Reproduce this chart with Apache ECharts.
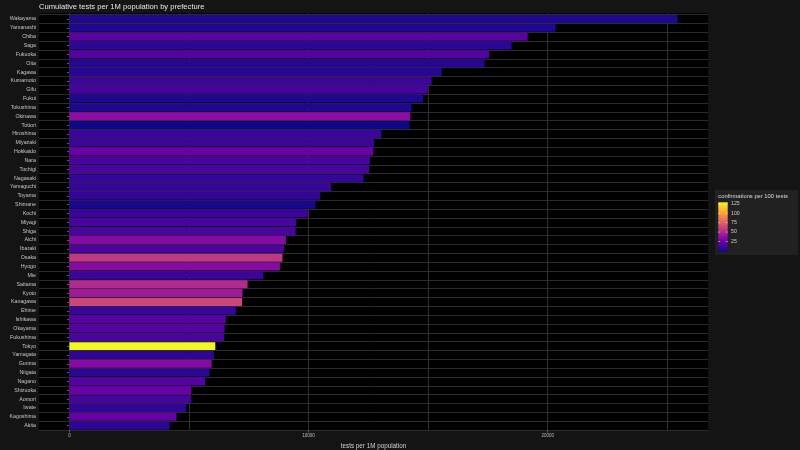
<!DOCTYPE html>
<html><head><meta charset="utf-8">
<script src="https://cdn.jsdelivr.net/npm/echarts@6/dist/echarts.min.js"></script>
<style>html,body{margin:0;padding:0;background:#141414}#c{width:800px;height:450px}</style>
</head><body><div id="c"></div>
<script>
const prefectures = ["Wakayama","Yamanashi","Chiba","Saga","Fukuoka","Oita","Kagawa","Kumamoto","Gifu","Fukui","Tokushima","Okinawa","Tottori","Hiroshima","Miyazaki","Hokkaido","Nara","Tochigi","Nagasaki","Yamaguchi","Toyama","Shimane","Kochi","Miyagi","Shiga","Aichi","Ibaraki","Osaka","Hyogo","Mie","Saitama","Kyoto","Kanagawa","Ehime","Ishikawa","Okayama","Fukushima","Tokyo","Yamagata","Gunma","Niigata","Nagano","Shizuoka","Aomori","Iwate","Kagoshima","Akita"];
const testsPer1M = [25430,20330,19160,18490,17550,17360,15560,15140,14980,14780,14310,14250,14220,13040,12740,12700,12560,12530,12300,10950,10490,10290,9970,9470,9460,9050,8970,8910,8800,8110,7450,7240,7220,6960,6540,6490,6470,6100,6040,5950,5860,5670,5090,5080,4870,4480,4190];
const confPer100 = [5.5,5.5,21,8.5,20,7,7,12,15,5.5,5,38,1,12,12,26,16,16,10.5,11,10,4,12,16,16,36,17,57,36,12,51,44,63,11,20,20,16.5,126,9.5,36,8.5,20,26,15,9.5,24.5,8.5];
const xTickValues = [0,10000,20000];
const legendTicks = [25,50,75,100,125];
const plasma = ["#0d0887","#41049d","#6a00a8","#8f0da4","#b12a90","#cc4778","#e16462","#f2844b","#fca636","#fcce25","#f0f921"];

const FONT = "'Liberation Sans', Arial, sans-serif";
// panel geometry
const PL = 39, PR = 708, PT = 13, PB = 430;
const PW = PR - PL;
const maxV = Math.max(...testsPer1M);
const xmin = -0.05 * maxV, xmax = 1.05 * maxV;
const pxPerUnit = PW / (xmax - xmin);
const zeroPx = PL + (0 - xmin) * pxPerUnit;
const gridTop0 = 14.6, gridH0 = 415.5;
const cMin = Math.min(...confPer100), cMax = Math.max(...confPer100);

// legend geometry
const LB = {x:715, y:190, w:83, h:65};
const barX = 718.3, barY = 202.3, barW = 9.4, barH = 49.4;
const inset = barH / 40;
function legY(v){ return barY + barH - inset - (v - cMin) / (cMax - cMin) * (barH - 2*inset); }

const graphics = [
  {type:'rect', z:-10, shape:{x:PL, y:PT, width:PW, height:PB-PT}, style:{fill:'#000'}, silent:true},
  {type:'rect', shape:{x:LB.x, y:LB.y, width:LB.w, height:LB.h}, style:{fill:'#212121'}},
  {type:'text', x:718.3, y:196.2, style:{text:'confirmations per 100 tests', fontSize:5.8, fontFamily:FONT, fill:'#dddddd', verticalAlign:'middle'}},
  {type:'rect', shape:{x:barX, y:barY, width:barW, height:barH}, style:{fill:{type:'linear', x:0, y:1, x2:0, y2:0, colorStops: plasma.map((c,i)=>({offset: i/(plasma.length-1), color:c}))}}}
];
legendTicks.forEach(v=>{
  const y = legY(v);
  graphics.push({type:'text', x:731, y:y, style:{text:String(v), fontSize:5.2, fontFamily:FONT, fill:'#cccccc', verticalAlign:'middle'}});
  graphics.push({type:'line', shape:{x1:barX, y1:y, x2:barX+1.9, y2:y}, style:{stroke:'#ffffff', lineWidth:0.5}});
  graphics.push({type:'line', shape:{x1:barX+barW-1.9, y1:y, x2:barX+barW, y2:y}, style:{stroke:'#ffffff', lineWidth:0.5}});
});

const chart = echarts.init(document.getElementById('c'), null, {renderer:'canvas'});
chart.setOption({
  backgroundColor:'#141414',
  animation:false,
  textStyle:{fontFamily:FONT},
  title:{text:'Cumulative tests per 1M population by prefecture', left:39, top:2.6, padding:0,
    textStyle:{fontSize:7.6, color:'#e6e6e6', fontWeight:'normal', fontFamily:FONT}},
  graphic: graphics,
  grid:[
    {left:PL, top:gridTop0, width:PW, height:gridH0, containLabel:false, outerBoundsMode:'none'},
    {left:zeroPx, top:PT, width:25000*pxPerUnit, height:PB-PT, containLabel:false, outerBoundsMode:'none'},
    {left:zeroPx, top:PT, width:20000*pxPerUnit, height:PB-PT, containLabel:false, outerBoundsMode:'none'}
  ],
  xAxis:[
    {gridIndex:0, type:'value', min:xmin, max:xmax, axisLine:{show:false}, axisTick:{show:false}, axisLabel:{show:false}, splitLine:{show:false},
      name:'tests per 1M population', nameLocation:'middle', nameGap:13, nameTextStyle:{fontSize:6.3, color:'#d0d0d0', fontFamily:FONT}},
    {gridIndex:1, type:'value', min:0, max:25000, interval:5000, axisLine:{show:false}, axisTick:{show:false}, axisLabel:{show:false},
      splitLine:{show:true, lineStyle:{color:'#303030', width:1}}},
    {gridIndex:2, type:'value', min:0, max:20000, interval:10000, axisLine:{show:false},
      axisTick:{show:true, length:2.5, lineStyle:{color:'#5a5a5a'}},
      axisLabel:{fontSize:4.5, color:'#bbbbbb', margin:3.5, fontFamily:FONT,
        formatter:v=> xTickValues.includes(v) ? String(v) : ''},
      splitLine:{show:false}}
  ],
  yAxis:[
    {gridIndex:0, type:'category', data:prefectures, inverse:true,
      axisLine:{show:false},
      axisTick:{show:true, alignWithLabel:true, interval:0, length:2.5, lineStyle:{color:'#5a5a5a'}},
      axisLabel:{fontSize:5.3, color:'#c4c4c4', margin:3, interval:0, fontFamily:FONT},
      splitLine:{show:true, interval:0, lineStyle:{color:'#2b2b2b', width:1}},
      name:'prefecture', nameLocation:'middle', nameGap:32.7, nameRotate:90,
      nameTextStyle:{fontSize:6.3, color:'#d0d0d0', fontFamily:FONT}},
    {gridIndex:1, type:'value', show:false},
    {gridIndex:2, type:'value', show:false}
  ],
  visualMap:{show:false, type:'continuous', seriesIndex:0, dimension:2, min:cMin, max:cMax, inRange:{color:plasma}},
  series:[{
    type:'bar', xAxisIndex:0, yAxisIndex:0, z:5,
    data: prefectures.map((p,i)=>[testsPer1M[i], p, confPer100[i]]),
    encode:{x:0, y:1},
    barCategoryGap:'10%'
  }]
});
</script></body></html>
